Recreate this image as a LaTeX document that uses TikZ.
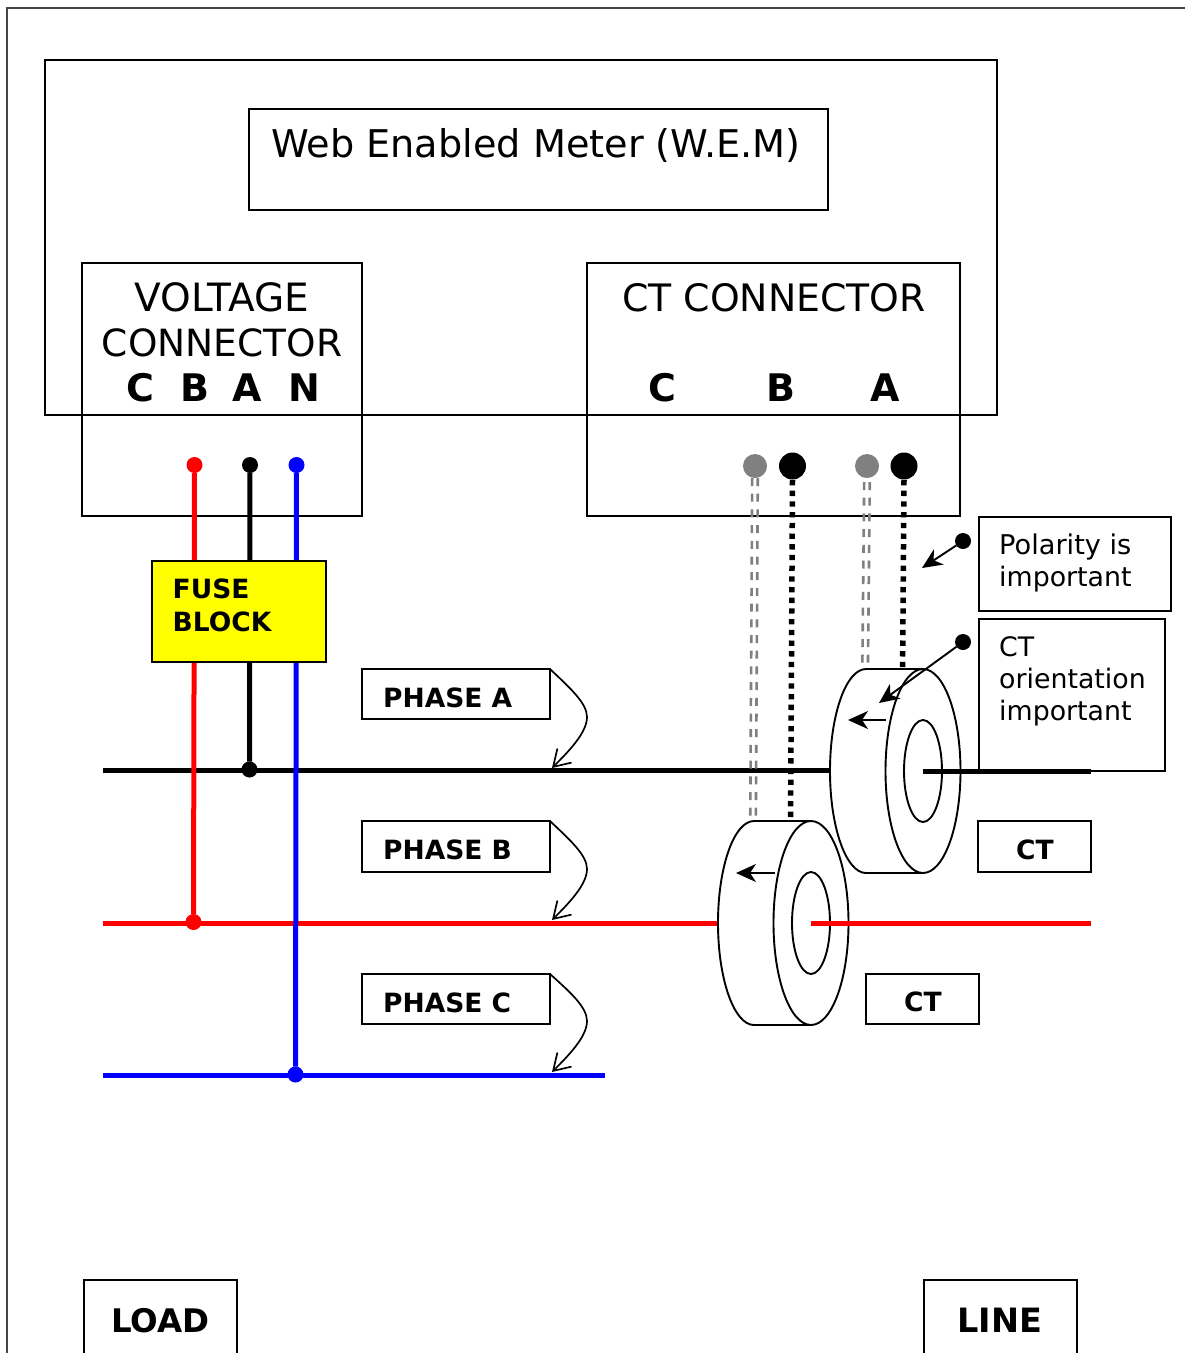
\documentclass[tikz,border=0pt]{standalone}
\usepackage{fontspec}
\setmainfont{DejaVu Sans}
\usetikzlibrary{arrows.meta}
\definecolor{framegray}{RGB}{70,70,70}
\definecolor{fuseyellow}{RGB}{255,255,0}
\definecolor{wirered}{RGB}{255,0,0}
\definecolor{wireblue}{RGB}{0,0,255}
\tikzset{
  x=1pt,y=-1pt,
  box/.style={draw=black,line width=1.7pt,fill=white,inner sep=0pt,outer sep=0pt},
  lbl/.style={inner sep=0pt,anchor=base west,align=left},
  big/.style={lbl,font=\fontsize{38}{45}\selectfont},
  bigb/.style={lbl,font=\fontsize{38}{45}\selectfont\bfseries},
  mid/.style={lbl,font=\fontsize{26.8}{32}\selectfont},
  midb/.style={lbl,font=\fontsize{26.5}{33}\selectfont\bfseries},
  wire/.style={line width=5pt},
  dot/.style={circle,inner sep=0pt,outer sep=0pt,minimum size=#1},
  gwire/.style={line width=2.6pt,draw=gray,dash pattern=on 8pt off 7.7pt},
  dwire/.style={line width=5.5pt,draw=black,dash pattern=on 5.3pt off 5.4pt},
  thin arrow/.style={line width=1.9pt,-{Stealth[length=20pt,width=18pt,inset=6pt]}},
  open arrow/.style={line width=1.7pt,-{Straight Barb[length=16pt,width=20pt]}},
  ring/.style={line width=1.9pt,draw=black,fill=white}
}
\newcommand{\boxat}[5]{\node[box,minimum width=#4pt-#2pt,minimum height=#5pt-#3pt,anchor=north west] (#1) at (#2,#3) {};}
\begin{document}
\begin{tikzpicture}
\useasboundingbox (0,0) rectangle (1185,1353);
\clip (0,0) rectangle (1185,1353);
\fill[white] (0,0) rectangle (1185,1353);
\coordinate (fa) at (7,1353);
\coordinate (fb) at (7,8);
\coordinate (fc) at (1185,8);
\draw[framegray,line width=1.7pt] (fa) -- (fb) -- (fc);

\boxat{meter}{45}{60}{997}{415}
\boxat{web}{249}{109}{828}{210}
\boxat{vconn}{82}{263}{362}{415}
\boxat{vlow}{82}{415}{362}{516}
\boxat{cconn}{587}{263}{960}{415}
\boxat{clow}{587}{415}{960}{516}
\boxat{polbox}{979}{517}{1171}{611}
\boxat{oribox}{979}{619}{1165}{771}

% terminals
\node[dot=16pt,fill=wirered] (tc) at (194.5,465) {};
\node[dot=16pt,fill=black] (ta) at (250,465) {};
\node[dot=16pt,fill=wireblue] (tn) at (296.5,465) {};
\node[dot=16pt,fill=wirered] (jc) at (193.5,922) {};
\node[dot=16pt,fill=black] (ja) at (249.5,769.5) {};
\node[dot=16pt,fill=wireblue] (jn) at (295.5,1074.5) {};
\node[dot=24pt,fill=gray] (gb) at (755,466) {};
\node[dot=27pt,fill=black] (kb) at (792.5,466) {};
\node[dot=24pt,fill=gray] (ga) at (867,466) {};
\node[dot=27pt,fill=black] (ka) at (904,466) {};

% phase wires
\coordinate (ha1) at (103,770.5); \coordinate (ha2) at (850,770.5);
\coordinate (ha3) at (923,771.5); \coordinate (ha4) at (1091,771.5);
\coordinate (hb1) at (103,923); \coordinate (hb2) at (740,923);
\coordinate (hb3) at (811,923); \coordinate (hb4) at (1091,923);
\coordinate (hc1) at (103,1075.5); \coordinate (hc2) at (605,1075.5);
\draw[wire,black] (ha1) -- (ha2);
\draw[wire,black] (ta) -- (ja);
\draw[wire,wirered] (hb1) -- (hb2);
\draw[wire,wireblue] (hc1) -- (hc2);
\draw[wire,wirered] (tc) -- (jc);
\draw[wire,wireblue] (tn) -- (jn);

% CT leads
\coordinate (gb1) at (755,478); \coordinate (gb2) at (753,830);
\coordinate (kb1) at (792.5,480); \coordinate (kb2) at (790.5,830);
\coordinate (ga1) at (867,482); \coordinate (ga2) at (865,680);
\coordinate (ka1) at (904,480); \coordinate (ka2) at (902.5,680);
\draw[gwire] ([xshift=-2.8pt]gb1) -- ([xshift=-2.8pt]gb2);
\draw[gwire] ([xshift=2.8pt]gb1) -- ([xshift=2.8pt]gb2);
\draw[dwire] (kb1) -- (kb2);
\draw[gwire] ([xshift=-2.8pt]ga1) -- ([xshift=-2.8pt]ga2);
\draw[gwire] ([xshift=2.8pt]ga1) -- ([xshift=2.8pt]ga2);
\draw[dwire] (ka1) -- (ka2);

% fuse block
\node[box,fill=fuseyellow,minimum width=174pt,minimum height=101pt,anchor=north west] (fuse) at (152,561) {};
\node[midb] (fuset) at (172.5,598) {FUSE};
\node[midb] (fuset2) at (172.5,631) {BLOCK};

% CT rings
\draw[ring] (923,669) -- (866,669) arc[start angle=270,end angle=90,x radius=36,y radius=102] -- (923,873);
\draw[ring] (923,771) ellipse[x radius=37.5,y radius=102];
\draw[ring] (923,771) ellipse[x radius=19,y radius=51];
\draw[ring] (811,821) -- (754,821) arc[start angle=270,end angle=90,x radius=36,y radius=102] -- (811,1025);
\draw[ring] (811,923) ellipse[x radius=37.5,y radius=102];
\draw[ring] (811,923) ellipse[x radius=19,y radius=51];
\draw[wire,black] (ha3) -- (ha4);
\draw[wire,wirered] (hb3) -- (hb4);
\coordinate (r1a) at (886,720); \coordinate (r1b) at (848,720);
\coordinate (r2a) at (775,873); \coordinate (r2b) at (736,873);
\draw[thin arrow] (r1a) -- (r1b);
\draw[thin arrow] (r2a) -- (r2b);

% callouts
\node[dot=16pt,fill=black] (d1) at (963,541) {};
\node[dot=16pt,fill=black] (d2) at (963,642) {};
\coordinate (d1e) at (922,568);
\coordinate (d2e) at (879,703);
\draw[thin arrow] (d1) -- (d1e);
\draw[thin arrow] (d2) -- (d2e);

% label boxes
\boxat{pa}{362}{669}{550}{719}
\boxat{pb}{362}{821}{550}{872}
\boxat{pc}{362}{974}{550}{1024}
\boxat{ct1}{978}{821}{1091}{872}
\boxat{ct2}{866}{974}{979}{1024}
\boxat{load}{84}{1280}{237}{1400}
\boxat{line}{924}{1280}{1077}{1400}

\coordinate (ea) at (552,768);
\coordinate (eb) at (552,920);
\coordinate (ec) at (552,1072);
\draw[open arrow] (pa.north east) .. controls (570,688) and (587,703) .. (587,717) .. controls (587,733) and (568,752) .. (ea);
\draw[open arrow] (pb.north east) .. controls (570,840) and (587,855) .. (587,869) .. controls (587,885) and (568,904) .. (eb);
\draw[open arrow] (pc.north east) .. controls (570,992) and (587,1007) .. (587,1021) .. controls (587,1037) and (568,1056) .. (ec);

% text
\node[big,font=\fontsize{38.2}{45}\selectfont] (webt) at (271,157) {Web Enabled Meter (W.E.M)};
\node[big,anchor=base,font=\fontsize{39}{45}\selectfont] (v1) at (222,311) {VOLTAGE};
\node[big,anchor=base,font=\fontsize{37.5}{45}\selectfont] (v2) at (222,356) {CONNECTOR};
\node[bigb] (vc) at (126,401) {C};
\node[bigb] (vb) at (180,401) {B};
\node[bigb] (va) at (232,401) {A};
\node[bigb] (vn) at (288,401) {N};
\node[big,font=\fontsize{37.8}{45}\selectfont] (cc) at (622,311) {CT CONNECTOR};
\node[bigb] (cc1) at (648,401) {C};
\node[bigb] (cc2) at (766,401) {B};
\node[bigb] (cc3) at (870,401) {A};
\node[mid,font=\fontsize{27.2}{32}\selectfont] (p1) at (999,554) {Polarity is};
\node[mid] (p2) at (999,586) {important};
\node[mid] (o1) at (999,656) {CT};
\node[mid] (o2) at (999,688) {orientation};
\node[mid] (o3) at (999,720) {important};
\node[midb] (pat) at (383,707) {PHASE A};
\node[midb] (pbt) at (383,859) {PHASE B};
\node[midb] (pct) at (383,1012) {PHASE C};
\node[midb] (ct1t) at (1016,859) {CT};
\node[midb] (ct2t) at (904,1011) {CT};
\node[lbl,font=\fontsize{32.5}{38}\selectfont\bfseries] (loadt) at (111,1332) {LOAD};
\node[lbl,font=\fontsize{33.5}{38}\selectfont\bfseries] (linet) at (957,1332) {LINE};
\end{tikzpicture}
\end{document}
